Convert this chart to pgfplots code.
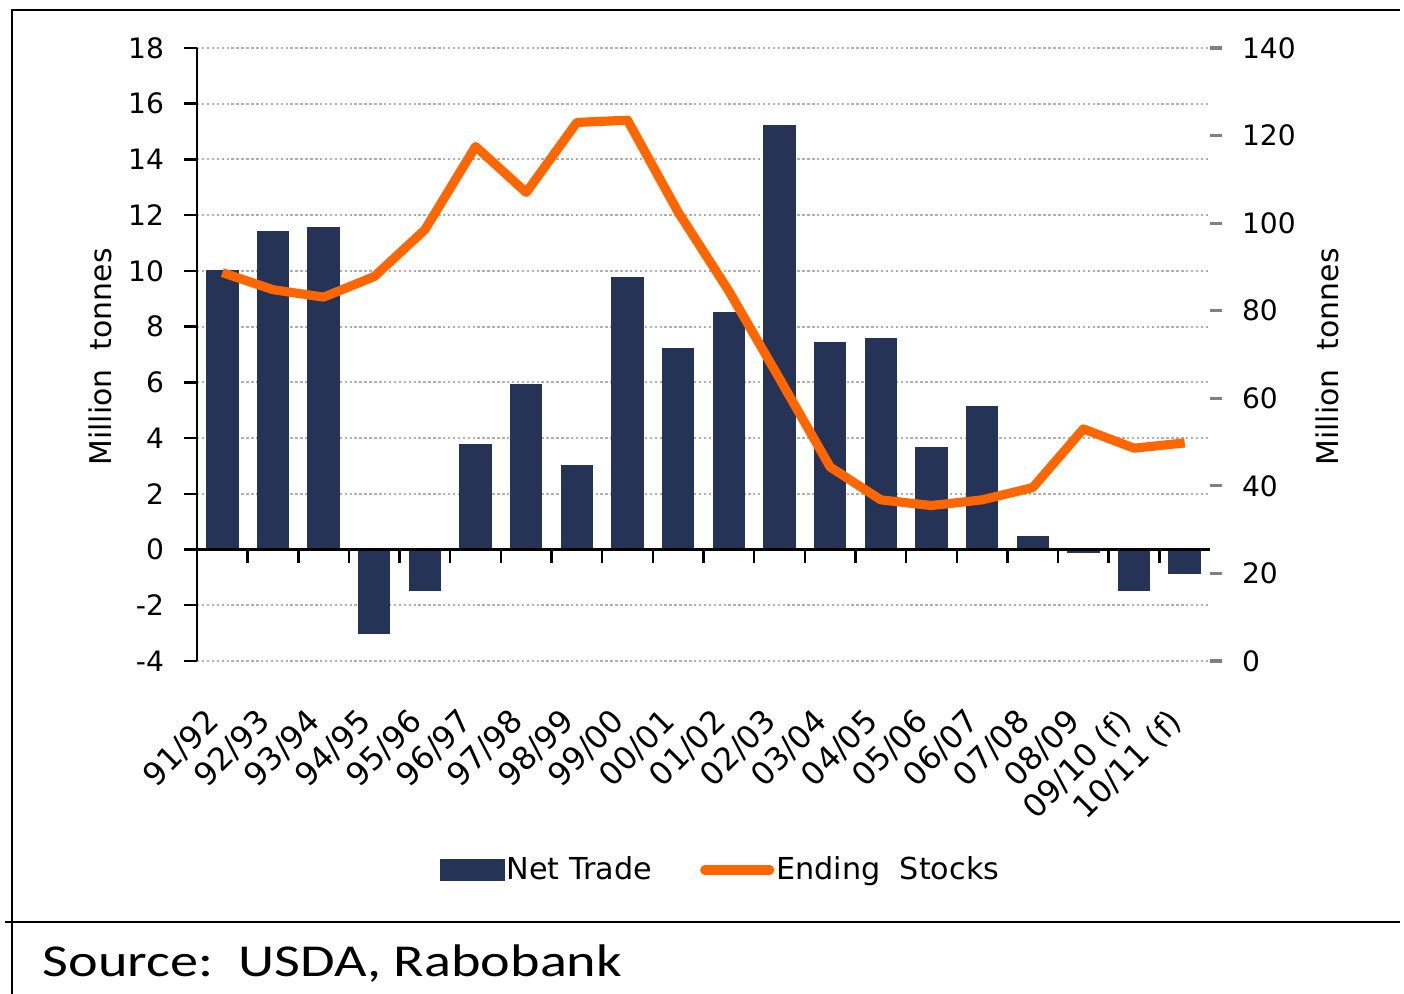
\documentclass[border=0pt]{standalone}
\usepackage{fontspec}
\setmainfont{DejaVu Sans}
\newfontfamily\srcfont{Carlito}
\usepackage{pgfplots}
\pgfplotsset{compat=1.18}

\definecolor{navy}{HTML}{253356}
\definecolor{stockorange}{HTML}{FF6600}
\definecolor{gridgray}{HTML}{B0B0B0}

\begin{document}
\fontsize{8}{10}\selectfont
\begin{tikzpicture}[x=1cm,y=1cm,font=\fontsize{8}{10}\selectfont]
\useasboundingbox (0,0) rectangle (14.04,9.94);
% frame round the chart
\draw[line width=0.8pt] (0.12,0) -- (0.12,9.84) -- (14.0,9.84);
\draw[line width=0.8pt] (0.05,0.72) -- (14.0,0.72);

% net trade, left axis
\begin{axis}[
    at={(1.97cm,3.33cm)}, anchor=south west,
    scale only axis, width=10.13cm, height=6.13cm,
    xmin=-0.5, xmax=19.5, ymin=-4, ymax=18,
    ytick={-4,-2,...,18},
    xtick={0,...,19},
    xticklabels={91/92,92/93,93/94,94/95,95/96,96/97,97/98,98/99,99/00,00/01,01/02,02/03,03/04,04/05,05/06,06/07,07/08,08/09,09/10 (f),10/11 (f)},
    xticklabel style={font=\fontsize{9}{11}\selectfont, yshift=-3.2mm, xshift=-1.8mm, rotate=45, anchor=north east, inner sep=0pt},
    axis y line*=left, axis x line*=bottom,
    x axis line style={draw=none}, xtick style={draw=none},
    y axis line style={line width=0.7pt},
    ytick style={black, line width=0.7pt},
    tick align=outside, major tick length=1.3mm,
    yticklabel style={xshift=-1mm},
    /pgf/number format/assume math mode=true,
    ymajorgrids,
    grid style={gridgray, line width=0.6pt, dash pattern=on 0.7pt off 0.7pt},
    ylabel={Million~~tonnes},
    every axis y label/.style={at={(rel axis cs:-0.0958,0.496)}, rotate=90, anchor=center, font=\fontsize{8.5}{10}\selectfont},
  ]
  \addplot[ybar, bar width=3.1mm, bar shift=0pt, fill=navy, draw=navy] coordinates {
    (0,10.0) (1,11.4) (2,11.55) (3,-3.0) (4,-1.45) (5,3.75) (6,5.9) (7,3.0)
    (8,9.77) (9,7.2) (10,8.5) (11,15.2) (12,7.44) (13,7.57) (14,3.67)
    (15,5.12) (16,0.46) (17,-0.1) (18,-1.46) (19,-0.86)
  };
  \draw[black, line width=0.8pt] (axis cs:-0.5,0) -- (axis cs:19.5,0);
  \pgfplotsinvokeforeach{0.5,1.5,...,18.5}{
    \draw[black, line width=0.7pt] (axis cs:#1,0) -- ([yshift=-1.3mm]axis cs:#1,0);
  }
\end{axis}

% ending stocks, right axis
\begin{axis}[
    at={(1.97cm,3.33cm)}, anchor=south west,
    scale only axis, width=10.13cm, height=6.13cm,
    xmin=-0.5, xmax=19.5, ymin=0, ymax=140,
    ytick={0,20,...,140},
    axis y line*=right, axis x line=none,
    y axis line style={draw=none},
    ytick style={color=gray, line width=0.9pt},
    tick align=outside, major tick length=1.2mm,
    yticklabel style={xshift=1mm},
    /pgf/number format/assume math mode=true,
    ylabel={Million~~tonnes},
    every axis y label/.style={at={(rel axis cs:1.1155,0.496)}, rotate=90, anchor=center, font=\fontsize{8.5}{10}\selectfont},
    legend style={at={(rel axis cs:0.517,-0.341)}, anchor=center, draw=none, fill=none,
      font=\fontsize{8.6}{10}\selectfont, nodes={inner xsep=0.6pt},
      legend columns=2, /tikz/every even column/.append style={column sep=4.6mm}},
    legend cell align=left,
  ]
  \addlegendimage{legend image code/.code={\fill[navy] (0mm,-1mm) rectangle (6.3mm,1mm);}}
  \addlegendentry{Net Trade}
  \addplot[stockorange, line width=2.6pt, line join=round,
    legend image code/.code={\draw[stockorange, line width=2.6pt, line cap=round] (0mm,0mm) -- (6.5mm,0mm);}]
    coordinates {
    (0,88.7) (1,84.8) (2,83.1) (3,87.8) (4,98.5) (5,117.5) (6,107) (7,123)
    (8,123.5) (9,102.5) (10,84.5) (11,64.5) (12,44.3) (13,36.8) (14,35.5)
    (15,36.8) (16,39.6) (17,53.0) (18,48.6) (19,49.8)
  };
  \addlegendentry{Ending~~Stocks}
\end{axis}

\node[anchor=base west, inner sep=0pt, font=\srcfont\fontsize{13}{15}\selectfont] at (0.42,0.17) {\scalebox{1.23}[1]{Source:~~USDA, Rabobank}};
\end{tikzpicture}
\end{document}
